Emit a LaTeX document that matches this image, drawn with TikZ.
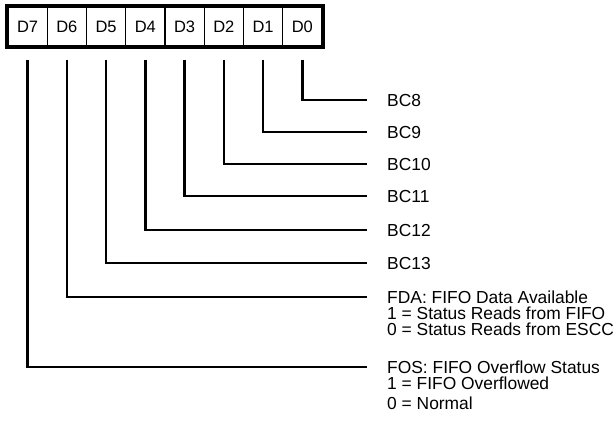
\documentclass[tikz,border=0pt]{standalone}
\usepackage{fontspec}
\setmainfont{Liberation Sans}
\begin{document}
\begin{tikzpicture}[x=1pt,y=-1pt,
  cell/.style={draw, line width=1.3pt, minimum width=39.25pt, minimum height=39pt, inner sep=0pt, font=\fontsize{16.5}{16.5}\selectfont},
  lbl/.style={anchor=base west, inner sep=0pt, font=\fontsize{17.4}{17.4}\selectfont},
  conn/.style={line width=2.7pt, line join=miter}]
\useasboundingbox (0,0) rectangle (616,421);
\foreach \i [count=\k from 0] in {7,6,5,4,3,2,1,0}
  \node[cell] (d\i) at (27.625+39.25*\k, 26.5) {D\i};
\draw[line width=4pt] (d7.north west) rectangle (d0.south east);
% labels
\node[lbl] (l0) at (387,106) {BC8};
\node[lbl] (l1) at (387,138) {BC9};
\node[lbl] (l2) at (387,170) {BC10};
\node[lbl] (l3) at (387,202) {BC11};
\node[lbl] (l4) at (387,236) {BC12};
\node[lbl] (l5) at (387,269) {BC13};
\node[lbl] (l6) at (387,303) {FDA: FIFO Data Available};
\node[lbl] (l6a) at (387,319) {1 = Status Reads from FIFO};
\node[lbl] (l6b) at (387,335) {0 = Status Reads from ESCC};
\node[lbl] (l7) at (387,373) {FOS: FIFO Overflow Status};
\node[lbl] (l7a) at (387,389) {1 = FIFO Overflowed};
\node[lbl] (l7b) at (387,409) {0 = Normal};
% connectors
\foreach \i in {0,...,7}
  \draw[conn] ([yshift=-13pt]d\i.south) |- ([xshift=-20pt,yshift=6pt]l\i.base west);
\end{tikzpicture}
\end{document}
